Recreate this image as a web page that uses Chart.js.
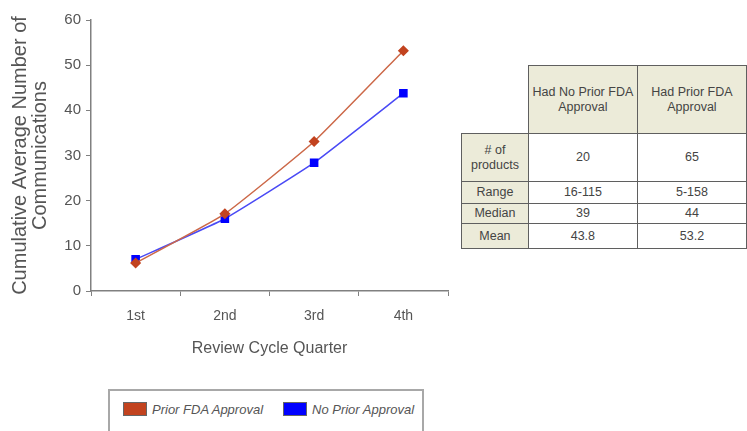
<!DOCTYPE html>
<html>
<head>
<meta charset="utf-8">
<script src="https://cdn.jsdelivr.net/npm/chart.js@4.4.1/dist/chart.umd.min.js"></script>
<style>
  html, body { margin: 0; padding: 0; background: #fff; width: 747px; height: 431px; overflow: hidden; }
  #wrap { position: relative; width: 747px; height: 431px; }
  #chartBox { position: absolute; left: 0; top: 0; width: 460px; height: 362px; }
  #legend {
    position: absolute; left: 108px; top: 389px; width: 316px; height: 44px;
    border: 2px solid #a8a8a8; box-sizing: border-box; background: #fff;
    font-family: "Liberation Sans", Arial, sans-serif;
    font-style: italic; font-size: 13px; color: #555;
  }
  .item { position: absolute; top: 11px; height: 15px; line-height: 15px; white-space: nowrap; }
  .swatch { display: inline-block; width: 24px; height: 14px; vertical-align: top; margin-right: 5px; border: 1px solid #666; box-sizing: border-box; }
  #stats {
    position: absolute; left: 461px; top: 65px; border-collapse: collapse;
    font-family: "Liberation Sans", Arial, sans-serif;
    font-size: 12.5px; color: #444; table-layout: fixed;
  }
  #stats td { border: 1.5px solid #5f5f5f; text-align: center; padding: 0; line-height: 15px; }
  #stats td.blank { border: none; border-right: 1.5px solid #5f5f5f; background: #fff; }
  #stats td.head { background: #ecebd9; }
  #stats td.val { background: #fff; }
</style>
</head>
<body>
<div id="wrap">
  <div id="chartBox"><canvas id="c" width="460" height="362"></canvas></div>
  <div id="legend"></div>
  <table id="stats"></table>
</div>
<script>
// Quarters of the review cycle
const quarters = ['1st', '2nd', '3rd', '4th'];
// Cumulative average number of communications per quarter
const priorApproval = [6.2, 17.1, 33.1, 53.2];
const noPriorApproval = [7.0, 16.0, 28.4, 43.8];
const seriesNames = ['Prior FDA Approval', 'No Prior Approval'];
const yTicks = [0, 10, 20, 30, 40, 50, 60];

// Summary statistics table
const tableColumns = ['Had No Prior FDA<br>Approval', 'Had Prior FDA<br>Approval'];
const tableRows = ['# of<br>products', 'Range', 'Median', 'Mean'];
const noPriorStats = ['20', '16-115', '39', '43.8'];
const priorStats = ['65', '5-158', '44', '53.2'];

const RED = '#c2431f';
const BLUE = '#0000ff';
const FONT = '"Liberation Sans", Arial, sans-serif';

const chart = new Chart(document.getElementById('c'), {
  type: 'line',
  data: {
    labels: quarters,
    datasets: [
      {
        label: seriesNames[0], data: priorApproval,
        borderColor: '#cc6848', backgroundColor: RED, borderWidth: 1.5,
        pointStyle: 'rectRot', pointRadius: 4.5, pointBorderColor: RED, pointBackgroundColor: RED,
        tension: 0.12
      },
      {
        label: seriesNames[1], data: noPriorApproval,
        borderColor: '#4a4af5', backgroundColor: BLUE, borderWidth: 1.5,
        pointStyle: 'rect', pointRadius: 5, pointBorderColor: BLUE, pointBackgroundColor: BLUE,
        tension: 0.12
      }
    ]
  },
  options: {
    responsive: false,
    animation: false,
    layout: { padding: { top: 20, right: 12, left: 0, bottom: 0 } },
    plugins: { legend: { display: false }, tooltip: { enabled: false } },
    scales: {
      x: {
        offset: true,
        grid: { display: true, drawOnChartArea: false, offset: true, tickLength: 5, color: '#808080', lineWidth: 1 },
        border: { display: true, color: '#808080', width: 1.5 },
        ticks: { color: '#555', font: { family: FONT, size: 14 }, padding: 12 },
        title: { display: true, text: 'Review Cycle Quarter', color: '#555', font: { family: FONT, size: 16 }, padding: { top: 6, bottom: 4 } },
        afterFit: s => { s.height = 71; }
      },
      y: {
        min: 0, max: 60,
        afterBuildTicks: s => { s.ticks = yTicks.map(v => ({ value: v })); },
        grid: { display: true, drawOnChartArea: false, tickLength: 5, color: '#808080' },
        border: { display: true, color: '#808080', width: 1.5 },
        ticks: { color: '#555', font: { family: FONT, size: 15 }, padding: 5 },
        title: {
          display: true, text: ['Cumulative Average Number of', 'Communications'],
          color: '#555', font: { family: FONT, size: 20, lineHeight: 1.0 }, padding: { top: 10, bottom: 0 }
        },
        afterFit: s => { s.width = 91; }
      }
    }
  }
});

// Legend built from the chart's datasets
const legend = document.getElementById('legend');
const legendX = [13, 173];
chart.data.datasets.forEach((ds, i) => {
  const it = document.createElement('div');
  it.className = 'item';
  it.style.left = legendX[i] + 'px';
  it.innerHTML = '<span class="swatch" style="background:' + ds.backgroundColor + '"></span>' + ds.label;
  legend.appendChild(it);
});

// Statistics table
const table = document.getElementById('stats');
const colWidths = [69, 116, 116];
const rowHeights = [68, 48, 22, 20, 25];
let html = '<colgroup>' + colWidths.map(w => '<col style="width:' + w + 'px">').join('') + '</colgroup>';
html += '<tr style="height:' + rowHeights[0] + 'px"><td class="blank"></td>' +
  tableColumns.map(c => '<td class="head">' + c + '</td>').join('') + '</tr>';
tableRows.forEach((r, i) => {
  html += '<tr style="height:' + rowHeights[i + 1] + 'px"><td class="head">' + r + '</td>' +
    '<td class="val">' + noPriorStats[i] + '</td><td class="val">' + priorStats[i] + '</td></tr>';
});
table.innerHTML = html;
</script>
</body>
</html>
